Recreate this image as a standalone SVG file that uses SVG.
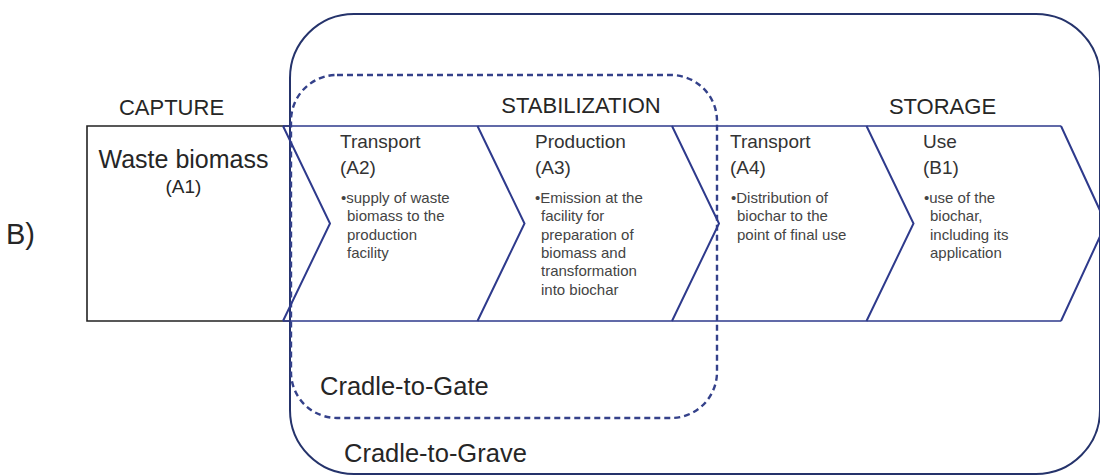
<svg xmlns="http://www.w3.org/2000/svg" width="1100" height="475" viewBox="0 0 1100 475">
<style>
.t{font-family:"Liberation Sans",Arial,sans-serif;fill:#262626}
.sec{font-size:22px}
.hd{font-size:19px;fill:#333}
.bl{font-size:15px;fill:#444}
.cr{font-size:25.5px}
.chev{fill:none;stroke:#2E3A8C;stroke-width:2}
.bar{fill:none;stroke:#2E3A8C;stroke-width:1.6}
</style>
<rect width="1100" height="475" fill="#ffffff"/>
<g id="cradle-to-grave">
<rect x="290" y="14" width="810" height="460" rx="64" ry="64" fill="none" stroke="#25336B" stroke-width="2"/>
<text class="t cr" x="344" y="462">Cradle-to-Grave</text>
</g>
<g id="cradle-to-gate">
<rect x="291" y="75" width="426" height="343" rx="46" ry="46" fill="none" stroke="#34418A" stroke-width="2.4" stroke-dasharray="6,4"/>
<text class="t cr" x="320" y="395">Cradle-to-Gate</text>
</g>
<g id="label-b"><text class="t" x="6" y="244" font-size="29">B)</text></g>
<g id="section-labels">
<text class="t sec" x="171.5" y="115" text-anchor="middle">CAPTURE</text>
<text class="t sec" x="581" y="113" text-anchor="middle">STABILIZATION</text>
<text class="t sec" x="942.5" y="114" text-anchor="middle">STORAGE</text>
</g>
<g id="connectors">
<path d="M290,126 H87 V321 H290" fill="none" stroke="#222" stroke-width="1.6"/>
<path class="bar" d="M283,126 H1061 M283,321 H1061"/>
<polyline class="chev" points="283,126 330,223.5 283,321"/>
<polyline class="chev" points="477.5,126 524.5,223.5 477.5,321"/>
<polyline class="chev" points="672,126 719,223.5 672,321"/>
<polyline class="chev" points="866.5,126 913.5,223.5 866.5,321"/>
<polyline class="chev" points="1061,126 1106,223.5 1061,321"/>
</g>
<g id="a1">
<text class="t" x="183.5" y="168" font-size="25" text-anchor="middle">Waste biomass</text>
<text class="t" x="183.5" y="193" font-size="19" text-anchor="middle" fill="#333">(A1)</text>
</g>
<g id="a2">
<text class="t hd" x="340" y="148">Transport</text>
<text class="t hd" x="340" y="174">(A2)</text>
<text class="t bl" x="341" y="203">•supply of waste</text>
<text class="t bl" x="347" y="221.3">biomass to the</text>
<text class="t bl" x="347" y="239.6">production</text>
<text class="t bl" x="347" y="257.9">facility</text>
</g>
<g id="a3">
<text class="t hd" x="535" y="148">Production</text>
<text class="t hd" x="535" y="174">(A3)</text>
<text class="t bl" x="535" y="203">•Emission at the</text>
<text class="t bl" x="541" y="221.3">facility for</text>
<text class="t bl" x="541" y="239.6">preparation of</text>
<text class="t bl" x="541" y="257.9">biomass and</text>
<text class="t bl" x="541" y="276.2">transformation</text>
<text class="t bl" x="541" y="294.5">into biochar</text>
</g>
<g id="a4">
<text class="t hd" x="730" y="148">Transport</text>
<text class="t hd" x="730" y="174">(A4)</text>
<text class="t bl" x="731" y="203">•Distribution of</text>
<text class="t bl" x="737" y="221.3">biochar to the</text>
<text class="t bl" x="737" y="239.6">point of final use</text>
</g>
<g id="b1">
<text class="t hd" x="923" y="148">Use</text>
<text class="t hd" x="923" y="174">(B1)</text>
<text class="t bl" x="924" y="203">•use of the</text>
<text class="t bl" x="930" y="221.3">biochar,</text>
<text class="t bl" x="930" y="239.6">including its</text>
<text class="t bl" x="930" y="257.9">application</text>
</g>
</svg>
